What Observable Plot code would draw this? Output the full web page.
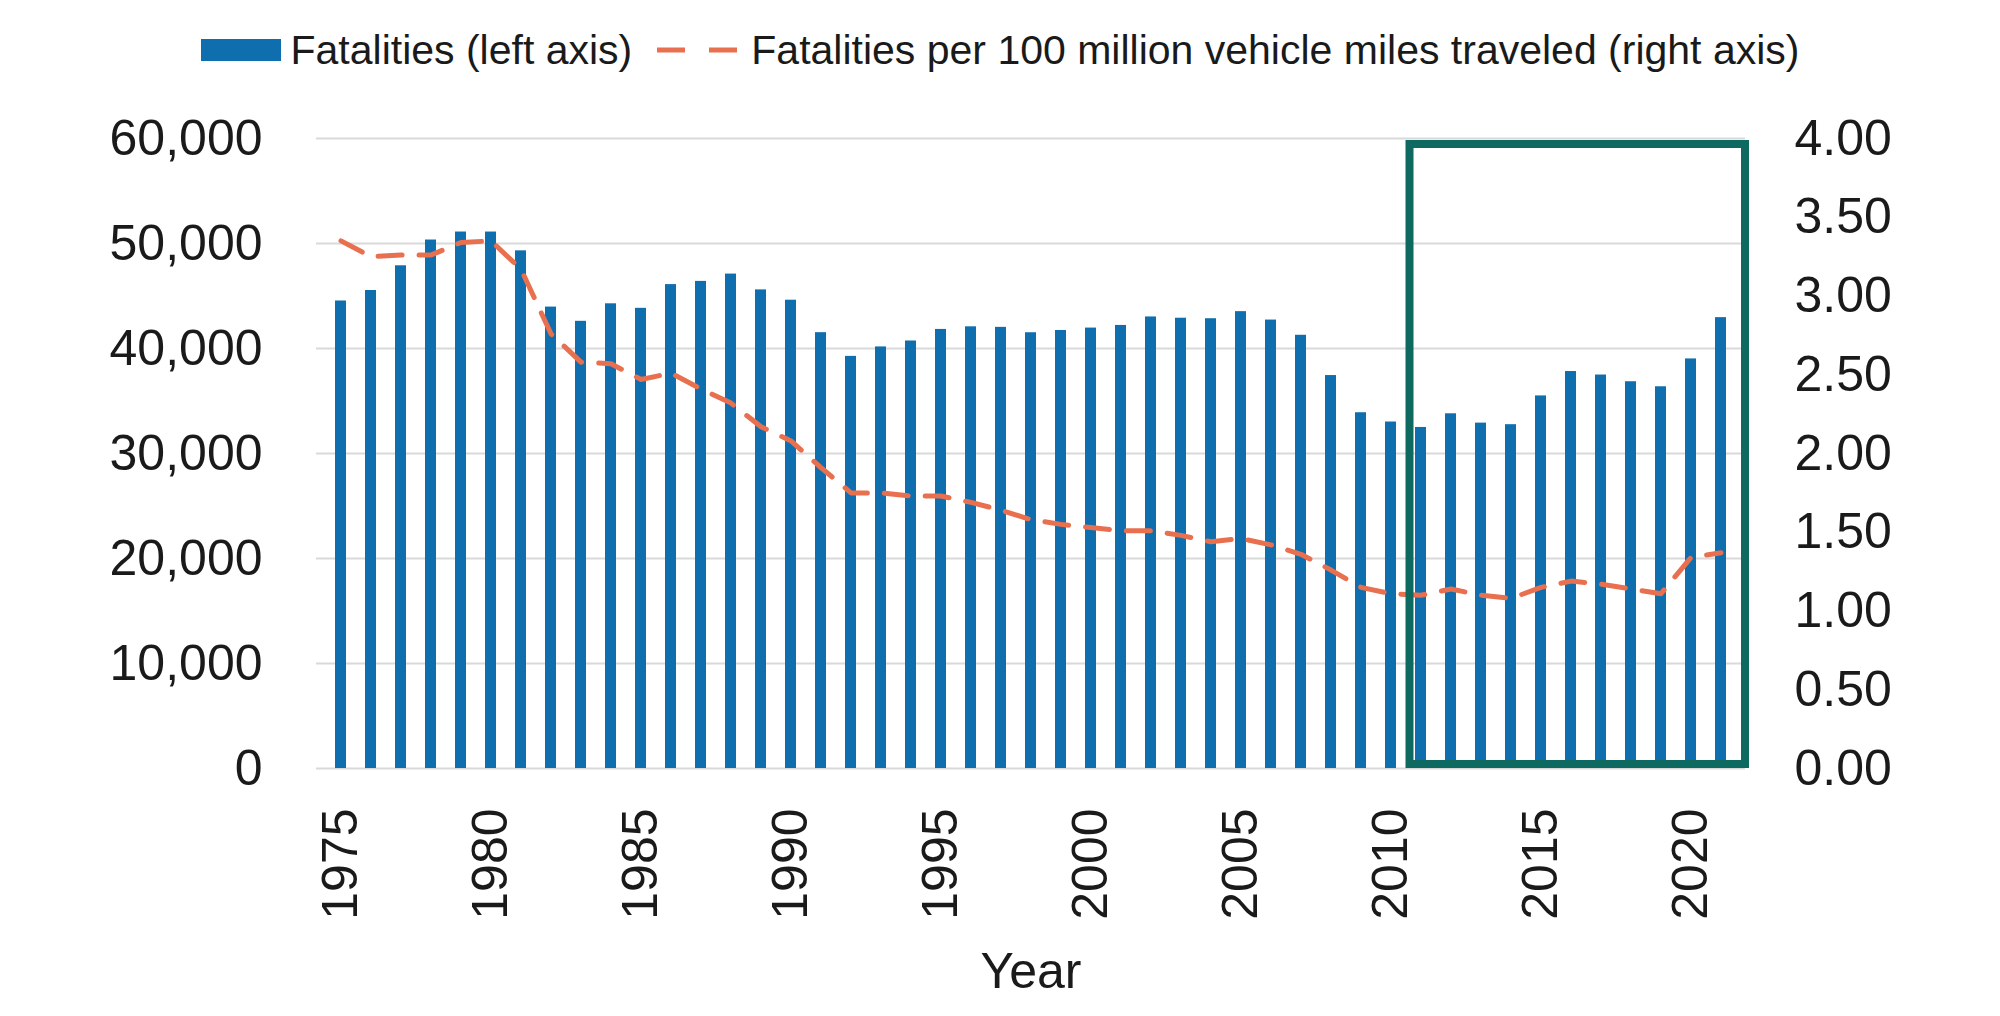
<!DOCTYPE html>
<html>
<head>
<meta charset="utf-8">
<script src="https://cdn.jsdelivr.net/npm/d3@7"></script>
<script src="https://cdn.jsdelivr.net/npm/@observablehq/plot@0.6"></script>
<style>
  html, body { margin: 0; padding: 0; background: #fff; }
  #wrap { width: 2000px; }
  #legend { height: 100px; display: flex; align-items: center; justify-content: center;
            font-family: "Liberation Sans", Arial, sans-serif; font-size: 41px; color: #1a1a1a; }
  #legend .sw { display: inline-block; width: 80px; height: 22px; }
</style>
</head>
<body>
<div id="wrap">
  <div id="legend"></div>
  <div id="chart"></div>
</div>
<script>
// ---- data ----
const years = [1975,1976,1977,1978,1979,1980,1981,1982,1983,1984,1985,1986,1987,1988,1989,1990,1991,1992,1993,1994,1995,1996,1997,1998,1999,2000,2001,2002,2003,2004,2005,2006,2007,2008,2009,2010,2011,2012,2013,2014,2015,2016,2017,2018,2019,2020,2021];
const fatalities = [44525,45523,47878,50331,51093,51091,49301,43945,42589,44257,43825,46087,46390,47087,45582,44599,41508,39250,40150,40716,41817,42065,42013,41501,41717,41945,42196,43005,42884,42836,43510,42708,41259,37423,33883,32999,32479,33782,32893,32744,35484,37806,37473,36835,36355,39007,42939];
const ratePer100M = [3.35,3.25,3.26,3.26,3.34,3.35,3.17,2.76,2.58,2.57,2.47,2.51,2.41,2.32,2.17,2.08,1.91,1.75,1.75,1.73,1.73,1.69,1.64,1.58,1.55,1.53,1.51,1.51,1.48,1.44,1.46,1.42,1.36,1.26,1.15,1.11,1.10,1.14,1.10,1.08,1.15,1.19,1.17,1.14,1.11,1.34,1.37];
const seriesNames = ["Fatalities (left axis)", "Fatalities per 100 million vehicle miles traveled (right axis)"];
const leftTicks = [0,10000,20000,30000,40000,50000,60000];
const rightTicks = [0,0.5,1,1.5,2,2.5,3,3.5,4];
const xTicks = [1975,1980,1985,1990,1995,2000,2005,2010,2015,2020];
const highlightYears = [2011, 2021];
const axisTitle = "Year";

// ---- styles ----
const barColor = "#0F6EAE";
const lineColor = "#E8704F";
const boxColor = "#0E6A60";
const leftMax = leftTicks[leftTicks.length - 1];
const rightMax = rightTicks[rightTicks.length - 1];
const ratio = leftMax / rightMax;

const data = years.map((y, i) => ({year: y, fatalities: fatalities[i], rate: ratePer100M[i]}));

// ---- legend ----
const legend = document.getElementById("legend");
legend.innerHTML = `
  <span class="sw" style="background:${barColor}"></span>
  <span style="margin-left:10px">${seriesNames[0]}</span>
  <svg width="80" height="12" style="margin-left:25px"><line x1="0" x2="80" y1="6" y2="6" stroke="${lineColor}" stroke-width="5" stroke-dasharray="28,24"/></svg>
  <span style="margin-left:14px">${seriesNames[1]}</span>`;

// ---- chart ----
const W = 2000, H = 916;
const chart = Plot.plot({
  width: W,
  height: H,
  marginTop: 38,
  marginBottom: 248,
  marginLeft: 316,
  marginRight: 255,
  style: {fontFamily: "Liberation Sans, Arial, sans-serif", fontSize: "50px", color: "#1a1a1a", background: "#fff"},
  x: {type: "band", domain: years, paddingInner: 0.64, paddingOuter: 0.34},
  y: {domain: [0, leftMax], nice: false},
  marks: [
    Plot.gridY(leftTicks, {stroke: "#d9d9d9", strokeOpacity: 1, strokeWidth: 2}),
    Plot.barY(data, {x: "year", y: "fatalities", fill: barColor}),
    Plot.lineY(data, {x: "year", y: d => d.rate * ratio, stroke: lineColor, strokeWidth: 5, strokeDasharray: "24,17"}),
    Plot.axisY({ticks: leftTicks, tickFormat: d3.format(","), tickSize: 0, tickPadding: 54, label: null}),
    Plot.axisY({anchor: "right", ticks: rightTicks.map(v => v * ratio), tickFormat: d => (d / ratio).toFixed(2), tickSize: 0, tickPadding: 49, label: null, textAnchor: "start"}),
    Plot.axisX({ticks: xTicks, tickFormat: d => String(d), tickRotate: -90, tickSize: 0, tickPadding: 40, label: axisTitle, labelAnchor: "center", labelOffset: 219, labelArrow: "none"})
  ]
});
document.getElementById("chart").appendChild(chart);

// highlight box drawn from the plot's own scales
const xs = chart.scale("x"), ys = chart.scale("y");
const gap = xs.step - xs.bandwidth;
const bx1 = xs.apply(highlightYears[0]) - gap / 2 + 4;
const bx2 = xs.range[1];
const by1 = ys.apply(leftMax) + 6;
const by2 = ys.apply(0) - 4;
d3.select(chart).append("rect")
  .attr("x", bx1).attr("y", by1)
  .attr("width", bx2 - bx1).attr("height", by2 - by1)
  .attr("fill", "none").attr("stroke", boxColor).attr("stroke-width", 8);
</script>
</body>
</html>
